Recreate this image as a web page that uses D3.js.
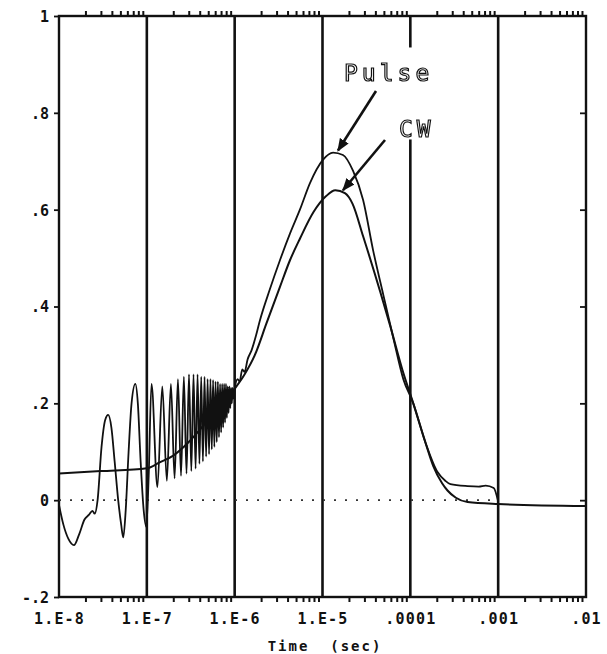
<!DOCTYPE html>
<html>
<head>
<meta charset="utf-8">
<script src="https://cdn.jsdelivr.net/npm/d3@7"></script>
<style>
  html, body { margin: 0; padding: 0; background: #fff; }
  svg { display: block; }
  .outline { filter: grayscale(1); }
</style>
</head>
<body>
<svg id="chart" width="607" height="654"></svg>
<script>
// ---- data ----
const xTickValues = [1e-8, 1e-7, 1e-6, 1e-5, 1e-4, 1e-3, 1e-2];
const xTickLabels = ["1.E-8", "1.E-7", "1.E-6", "1.E-5", ".0001", ".001", ".01"];
const yTickValues = [-0.2, 0, 0.2, 0.4, 0.6, 0.8, 1.0];
const yTickLabels = ["-.2", "0", ".2", ".4", ".6", ".8", "1"];

const pulseTime = [
  1.0e-8, 1.12e-8, 1.28e-8, 1.48e-8, 1.7e-8, 1.95e-8, 2.2e-8, 2.4e-8, 2.55e-8,
  2.75e-8, 3.05e-8, 3.35e-8, 3.63e-8, 3.95e-8, 4.3e-8, 4.72e-8, 5.1e-8, 5.39e-8,
  5.75e-8, 6.2e-8, 6.7e-8, 7.4e-8, 7.9e-8, 8.5e-8, 9.2e-8, 9.87e-8, 1.05e-7,
  1.13e-7, 1.32e-7, 1.5e-7, 1.69e-7, 1.88e-7, 2.07e-7, 2.26e-7, 2.45e-7, 2.64e-7,
  2.83e-7, 3.02e-7, 3.21e-7, 3.40e-7, 3.59e-7, 3.78e-7, 3.97e-7, 4.16e-7, 4.35e-7,
  4.54e-7, 4.73e-7, 4.92e-7, 5.11e-7, 5.30e-7, 5.49e-7, 5.68e-7, 5.87e-7, 6.06e-7,
  6.25e-7, 6.44e-7, 6.63e-7, 6.82e-7, 7.01e-7, 7.20e-7, 7.39e-7, 7.58e-7, 7.77e-7,
  7.96e-7, 8.15e-7, 8.34e-7, 8.53e-7, 8.72e-7, 8.91e-7, 9.10e-7, 9.29e-7, 9.48e-7,
  9.67e-7, 1.0e-6, 1.08e-6, 1.14e-6, 1.22e-6, 1.3e-6, 1.4e-6, 1.56e-6, 1.75e-6,
  1.93e-6, 2.51e-6, 3.27e-6, 4.25e-6, 5.53e-6, 7.2e-6, 1.01e-5, 1.32e-5, 1.71e-5,
  2.23e-5, 2.9e-5, 3.78e-5, 4.91e-5, 6.4e-5, 8.32e-5, 1.08e-4, 1.48e-4, 2.04e-4,
  2.5e-4, 2.86e-4, 4.48e-4, 6.0e-4, 7.2e-4, 8.9e-4, 1.0e-3
];
const pulseValue = [
  -0.01, -0.05, -0.08, -0.093, -0.07, -0.04, -0.03, -0.022, -0.028,
  0.0, 0.11, 0.165, 0.176, 0.15, 0.08, 0.0, -0.05, -0.077,
  -0.02, 0.1, 0.2, 0.24, 0.2, 0.08, -0.02, -0.055, 0.05,
  0.24, 0.027, 0.235, 0.04, 0.24, 0.045, 0.25, 0.05, 0.255,
  0.055, 0.26, 0.06, 0.26, 0.065, 0.26, 0.075, 0.255, 0.08,
  0.255, 0.09, 0.25, 0.095, 0.25, 0.105, 0.248, 0.11, 0.245,
  0.12, 0.245, 0.13, 0.24, 0.14, 0.24, 0.15, 0.24, 0.16,
  0.24, 0.17, 0.235, 0.18, 0.235, 0.19, 0.232, 0.2, 0.232,
  0.21, 0.23, 0.25, 0.245, 0.27, 0.265, 0.29, 0.31, 0.34,
  0.37, 0.435, 0.495, 0.55, 0.6, 0.655, 0.703, 0.718, 0.713,
  0.68, 0.62, 0.515, 0.425, 0.335, 0.25, 0.2, 0.12, 0.058,
  0.04, 0.033, 0.029, 0.028, 0.03, 0.025, -0.003
];

const cwTime = [
  1e-8, 3e-8, 1e-7, 1.4e-7, 2e-7, 3e-7, 4e-7, 6e-7, 1e-6, 1.3e-6, 1.7e-6, 2.3e-6,
  3.27e-6, 4.25e-6, 5.53e-6, 7.9e-6, 1.1e-5, 1.4e-5, 1.8e-5, 2.2e-5, 2.9e-5,
  4.55e-5, 5.9e-5, 8.1e-5, 1.08e-4, 1.48e-4, 1.83e-4, 2.3e-4, 2.65e-4, 3.3e-4,
  4.48e-4, 1e-3, 1e-2
];
const cwValue = [
  0.055, 0.06, 0.066, 0.078, 0.092, 0.12, 0.145, 0.185, 0.23, 0.26, 0.3, 0.365,
  0.44, 0.495, 0.54, 0.595, 0.628, 0.64, 0.634, 0.612, 0.545,
  0.43, 0.36, 0.27, 0.2, 0.12, 0.07, 0.035, 0.02, 0.005,
  -0.004, -0.008, -0.012
];

const seriesLabels = ["Pulse", "CW"];

// ---- drawing ----
const svg = d3.select("#chart");
svg.append("rect").attr("width", 607).attr("height", 654).attr("fill", "#fff");

const x = d3.scaleLog().domain([1e-8, 1e-2]).range([59, 586]);
const y = d3.scaleLinear().domain([-0.2, 1]).range([597, 16]);

const monoBold = "'DejaVu Sans Mono', 'Liberation Mono', monospace";

// minor ticks (top outward, bottom outward)
const minorTicks = x.ticks(60).filter(v => {
  const l = Math.log10(v);
  return Math.abs(l - Math.round(l)) > 1e-6;
});

const topAxis = svg.append("g")
  .attr("transform", `translate(0,${y(1)})`)
  .call(d3.axisTop(x).tickValues(minorTicks).tickSize(5).tickFormat(""));
const bottomAxis = svg.append("g")
  .attr("transform", `translate(0,${y(-0.2)})`)
  .call(d3.axisBottom(x).tickValues(minorTicks).tickSize(5).tickFormat(""));
[topAxis, bottomAxis].forEach(a => {
  a.select(".domain").remove();
  a.selectAll("line").attr("stroke", "#111").attr("stroke-width", 2);
});

// left axis ticks outward, right axis ticks inward
const leftAxis = svg.append("g")
  .attr("transform", `translate(${x(1e-8)},0)`)
  .call(d3.axisLeft(y).tickValues(yTickValues).tickSize(5)
    .tickFormat((d, i) => yTickLabels[i]).tickPadding(5));
leftAxis.select(".domain").remove();
leftAxis.selectAll("line").attr("stroke", "#111").attr("stroke-width", 1.8);
leftAxis.selectAll("text")
  .attr("font-family", monoBold).attr("font-weight", "bold")
  .attr("font-size", 15).attr("fill", "#111").attr("dy", "0.36em");

const rightAxis = svg.append("g")
  .attr("transform", `translate(${x(1e-2)},0)`)
  .call(d3.axisLeft(y).tickValues(yTickValues.slice(1, -1)).tickSize(6).tickFormat(""));
rightAxis.select(".domain").remove();
rightAxis.selectAll("line").attr("stroke", "#111").attr("stroke-width", 1.8);

// bottom labels
const xLab = svg.append("g")
  .attr("transform", `translate(0,${y(-0.2)})`)
  .call(d3.axisBottom(x).tickValues(xTickValues).tickSize(0)
    .tickFormat((d, i) => xTickLabels[i]).tickPadding(16));
xLab.select(".domain").remove();
xLab.selectAll("text")
  .attr("font-family", monoBold).attr("font-weight", "bold")
  .attr("font-size", 15).attr("letter-spacing", 1.2).attr("fill", "#111");

// decade gridlines
svg.append("g").selectAll("line").data(xTickValues.slice(1, -1)).join("line")
  .attr("x1", d => x(d)).attr("x2", d => x(d))
  .attr("y1", y(1)).attr("y2", y(-0.2))
  .attr("stroke", "#111").attr("stroke-width", 2.6);

// frame
svg.append("rect")
  .attr("x", x(1e-8)).attr("y", y(1))
  .attr("width", x(1e-2) - x(1e-8)).attr("height", y(-0.2) - y(1))
  .attr("fill", "none").attr("stroke", "#111").attr("stroke-width", 2.4);

// dotted zero line
svg.append("line")
  .attr("x1", x(1e-8)).attr("x2", x(1e-3))
  .attr("y1", y(0)).attr("y2", y(0))
  .attr("stroke", "#333").attr("stroke-width", 1.6)
  .attr("stroke-dasharray", "2,9");

// label background (breaks the .0001 gridline)
svg.append("rect")
  .attr("x", x(1e-4) - 6).attr("y", y(0.935))
  .attr("width", 12).attr("height", y(0.745) - y(0.935))
  .attr("fill", "#fff");

// curves
const line = d3.line()
  .x(d => x(d[0])).y(d => y(d[1]))
  .curve(d3.curveMonotoneX);

const pulseData = pulseTime.map((t, i) => [t, pulseValue[i]]);
const cwData = cwTime.map((t, i) => [t, cwValue[i]]);

svg.append("path").datum(cwData).attr("d", line)
  .attr("fill", "none").attr("stroke", "#111").attr("stroke-width", 2);
svg.append("path").datum(pulseData).attr("d", line)
  .attr("fill", "none").attr("stroke", "#111").attr("stroke-width", 1.8);

// annotation labels
const lab = svg.append("g").attr("class", "outline");
lab.append("text").attr("x", 344).attr("y", 81).text(seriesLabels[0])
  .attr("font-family", monoBold).attr("font-size", 23).attr("letter-spacing", 4)
  .attr("fill", "#fff").attr("stroke", "#111").attr("stroke-width", 1.2);
lab.append("text").attr("x", 399).attr("y", 137).text(seriesLabels[1])
  .attr("font-family", monoBold).attr("font-size", 23).attr("letter-spacing", 4)
  .attr("fill", "#fff").attr("stroke", "#111").attr("stroke-width", 1.2);

// arrows
const defs = svg.append("defs");
defs.append("marker").attr("id", "ah")
  .attr("viewBox", "0 0 10 10").attr("refX", 9).attr("refY", 5)
  .attr("markerWidth", 5).attr("markerHeight", 5).attr("orient", "auto")
  .append("path").attr("d", "M0,1 L10,5 L0,9 Z").attr("fill", "#111");

const arrowTargets = [[1.5e-5, 0.718], [1.71e-5, 0.636]];
const arrowStarts = [[376, 91], [385, 140]];
arrowTargets.forEach((tg, i) => {
  svg.append("line")
    .attr("x1", arrowStarts[i][0]).attr("y1", arrowStarts[i][1])
    .attr("x2", x(tg[0])).attr("y2", y(tg[1]) - 2)
    .attr("stroke", "#111").attr("stroke-width", 2.6)
    .attr("marker-end", "url(#ah)");
});

// axis title
svg.append("text").attr("x", 325).attr("y", 651).attr("text-anchor", "middle")
  .text("Time  (sec)")
  .attr("font-family", monoBold).attr("font-weight", "bold")
  .attr("font-size", 14).attr("letter-spacing", 2).attr("fill", "#111")
  .style("white-space", "pre");
</script>
</body>
</html>
